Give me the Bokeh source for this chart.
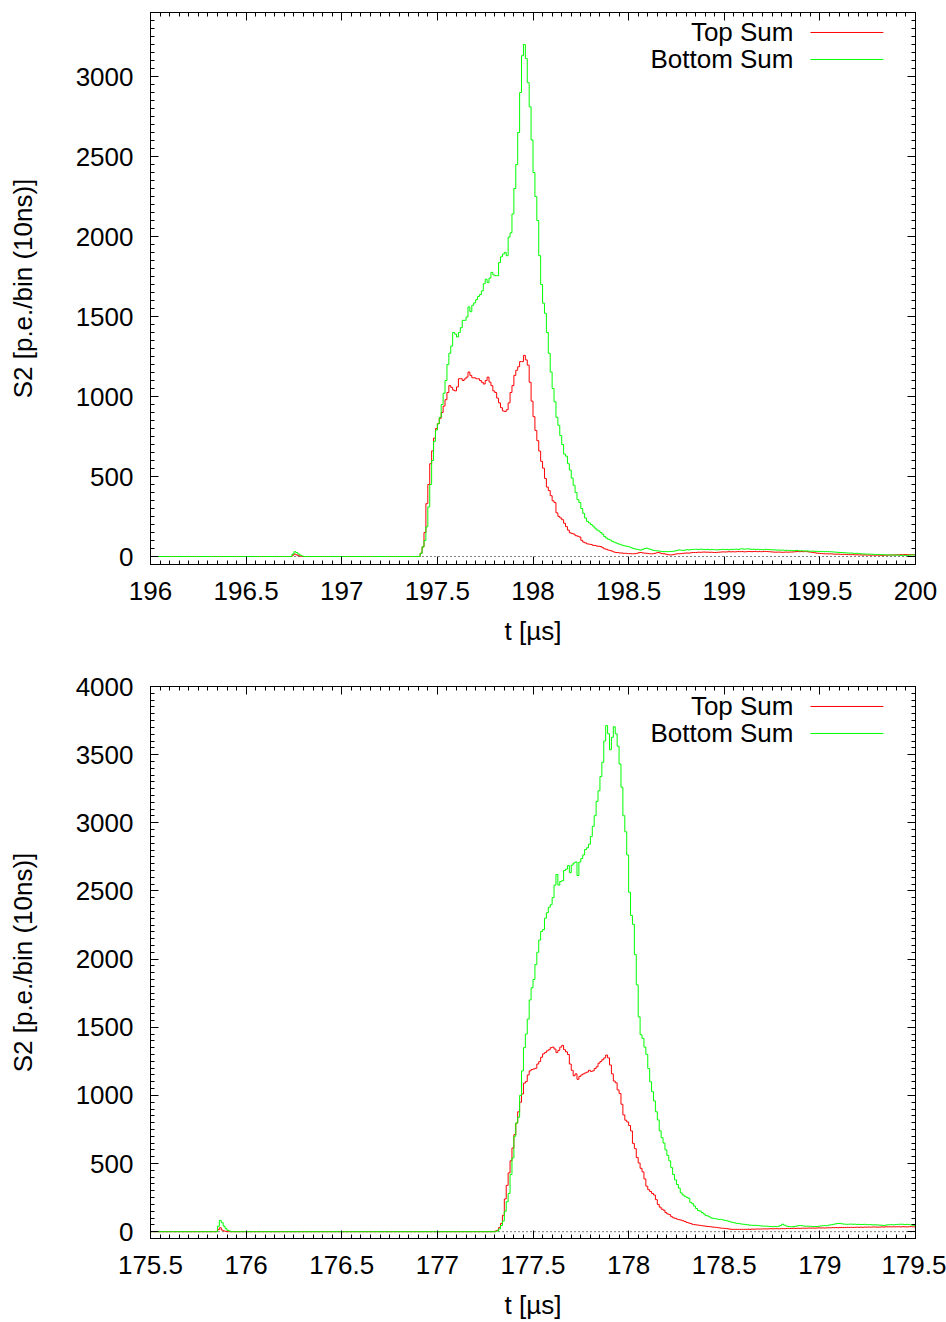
import numpy as np
from bokeh.plotting import figure
from bokeh.models import (Range1d, FixedTicker, LinearAxis, Span, Label,
                          NumeralTickFormatter, CustomLabelingPolicy)
from bokeh.layouts import column
from bokeh.embed import file_html
from bokeh.resources import INLINE

BIN_US = 0.01  # 10 ns bins

# ---------------------------------------------------------------- event 1
EV1_T0 = 196.0
EV1_TOP_SUM = (
    [0] * 74
    + [8, 15, 10, 5, 2, 0]
    + [0] * 61
    # 197.41 us onwards
    + [20, 60, 150, 330, 450, 580, 660, 740, 800, 830,
       864, 900, 940, 980, 1025, 1068, 1057, 1040, 1035, 1060,
       1111, 1111, 1100, 1110, 1121, 1153, 1132, 1117, 1117, 1111,
       1111, 1100, 1089, 1078, 1100, 1121, 1090, 1068, 1035, 1025,
       990, 960, 930, 910, 906, 917, 960, 1025, 1068, 1132,
       1164, 1186, 1218, 1218, 1257, 1229, 1196, 1089, 971, 874,
       788, 724, 659, 595, 552, 488, 434, 412, 380, 348,
       337, 273, 251, 241, 230, 208, 187, 165, 148, 144,
       140, 130, 127, 122, 101, 90, 85, 79, 77, 75,
       70, 69, 65, 64]
    # 198.35 us onwards
    + [62, 55, 48, 45, 40, 37, 33, 28, 25, 24,
       22, 22, 20, 20, 18, 18, 17, 17, 18, 20,
       24, 25, 22, 21, 20, 18, 17, 17, 19, 22,
       25, 22, 18, 17, 15, 12, 10, 10, 12, 15,
       17, 17, 18, 20, 21, 22, 21, 23, 25, 25,
       25, 27, 26, 27, 28, 27, 27, 26, 27, 25,
       25, 26, 27, 28, 29, 28, 29, 30, 29, 30,
       29, 30, 31, 30, 31, 29, 30, 31, 31, 30,
       31, 32, 30, 31, 30, 31, 32, 31, 30, 29,
       28, 27, 27, 28, 27, 26, 27, 28, 27, 28,
       28, 29, 30, 31, 30, 31, 30, 31, 30, 28,
       27, 25, 23, 21, 20, 19, 18, 17, 17, 16,
       17, 16, 15, 14, 15, 14, 13, 14, 13, 12,
       12, 11, 12, 10, 11, 10, 10, 9, 10, 9,
       9, 8, 9, 8, 8, 9, 8, 7, 8, 8,
       8, 9, 10, 9, 10, 11, 10, 12, 11, 12,
       12, 11, 12, 12, 11]
)
EV1_BOTTOM_SUM = (
    [0] * 74
    + [15, 30, 25, 15, 8, 3]
    + [0] * 61
    + [20, 60, 100, 185, 310, 450, 600, 720, 790, 830,
       870, 950, 1020, 1100, 1200, 1270, 1315, 1400, 1390, 1372,
       1400, 1430, 1476, 1476, 1497, 1560, 1530, 1570, 1585, 1605,
       1625, 1637, 1660, 1705, 1733, 1712, 1740, 1776, 1760, 1755,
       1755, 1837, 1873, 1890, 1901, 1880, 1996, 2023, 2141, 2300,
       2450, 2650, 2900, 3130, 3200, 3112, 2962, 2810, 2604, 2400,
       2250, 2100, 1880, 1700, 1583, 1520, 1400, 1270, 1153, 1050,
       967, 870, 820, 756, 700, 640, 627, 580, 540, 490,
       445, 400, 355, 337, 300, 270, 240, 220, 210, 200,
       190, 178, 166, 160]
    + [150, 140, 125, 115, 108, 103, 95, 90, 85, 80,
       76, 72, 68, 65, 63, 60, 55, 50, 47, 45,
       42, 40, 45, 50, 52, 48, 45, 40, 38, 36,
       35, 33, 31, 30, 31, 30, 32, 31, 33, 35,
       38, 41, 40, 38, 40, 42, 41, 43, 44, 45,
       45, 44, 46, 45, 43, 44, 45, 42, 44, 43,
       42, 41, 43, 44, 45, 43, 44, 42, 45, 44,
       45, 46, 44, 47, 48, 46, 47, 48, 46, 45,
       46, 44, 45, 43, 44, 42, 45, 44, 43, 42,
       42, 41, 40, 41, 39, 40, 38, 39, 38, 37,
       37, 36, 38, 37, 35, 36, 35, 34, 35, 33,
       33, 34, 32, 33, 31, 32, 31, 30, 31, 30,
       30, 29, 28, 27, 26, 25, 25, 24, 23, 22,
       21, 22, 20, 19, 20, 18, 17, 16, 16, 15,
       15, 14, 14, 13, 12, 13, 12, 11, 11, 10,
       10, 9, 10, 9, 8, 9, 8, 7, 8, 7,
       7, 8, 9, 10, 10]
)

# ---------------------------------------------------------------- event 2
EV2_T0 = 175.5
EV2_TOP_SUM = (
    [0] * 35
    + [15, 29, 12, 5, 3, 0, 0]
    + [0] * 138
    # 177.30 us onwards
    + [5, 10, 30, 60, 120, 240, 340, 431, 520, 614,
       712, 797, 880, 950, 1010, 1090, 1101, 1150, 1180, 1190,
       1194, 1199, 1230, 1248, 1280, 1305, 1314, 1327, 1335, 1350,
       1354, 1340, 1314, 1330, 1354, 1367, 1335, 1320, 1300, 1230,
       1184, 1144, 1158, 1118, 1139, 1150, 1158, 1165, 1171, 1184,
       1176, 1180, 1197, 1210, 1236, 1249, 1262, 1275, 1296, 1275,
       1223, 1158, 1105, 1092, 1040, 1014, 935, 857, 818, 805,
       779, 739, 648, 609, 544, 504, 465, 439, 387, 334,
       308, 295, 280, 269, 235, 200, 180, 165, 158, 140,
       130, 125, 110, 102, 98, 92, 88, 85, 80, 75,
       68, 64, 60, 54, 52, 50, 48, 46, 44, 42,
       40, 38, 37, 35, 33, 32, 30, 28, 26, 25,
       24, 22, 20, 18, 17, 17, 17, 17, 17, 17,
       17]
    # 178.61 us onwards
    + [17, 18, 17, 19, 18, 19, 20, 19, 20, 20,
       21, 20, 21, 22, 21, 22, 22, 21, 22, 23,
       22, 23, 24, 23, 24, 25, 24, 25, 24, 25,
       26, 25, 26, 27, 26, 27, 26, 27, 28, 27,
       28, 27, 28, 29, 28, 30, 29, 30, 29, 30,
       31, 30, 31, 32, 31, 32, 31, 32, 33, 32,
       33, 32, 34, 33, 34, 33, 34, 35, 34, 33,
       34, 35, 34, 36, 35, 36, 35, 36, 35, 36,
       36, 35, 37, 36, 35, 36, 37, 36, 35]
)
EV2_BOTTOM_SUM = (
    [0] * 35
    + [40, 83, 66, 41, 22, 10, 5]
    + [0] * 138
    + [0, 5, 20, 45, 78, 150, 220, 280, 420, 541,
       700, 797, 840, 1000, 1180, 1350, 1450, 1560, 1700, 1790,
       1850, 1960, 2050, 2140, 2203, 2216, 2300, 2340, 2380, 2399,
       2451, 2543, 2621, 2543, 2569, 2575, 2650, 2660, 2686, 2634,
       2690, 2705, 2712, 2613, 2712, 2738, 2764, 2804, 2817, 2843,
       2900, 2974, 3052, 3157, 3235, 3339, 3444, 3600, 3713, 3653,
       3536, 3627, 3705, 3653, 3562, 3431, 3261, 3052, 2934, 2764,
       2490, 2320, 2255, 2033, 1811, 1576, 1445, 1419, 1354, 1301,
       1197, 1100, 1027, 960, 880, 820, 740, 690, 650, 600,
       560, 520, 470, 420, 380, 346, 320, 285, 270, 260,
       252, 245, 215, 205, 188, 170, 155, 151, 140, 130,
       118, 115, 108, 100, 97, 95, 92, 90, 90, 86,
       83, 80, 76, 71, 68, 65, 61, 60, 58, 55,
       54]
    + [52, 50, 48, 47, 46, 47, 45, 44, 42, 41,
       41, 40, 39, 38, 37, 38, 37, 40, 45, 55,
       48, 42, 38, 37, 36, 38, 40, 43, 45, 44,
       42, 40, 41, 40, 39, 38, 37, 38, 40, 42,
       44, 45, 44, 47, 50, 52, 55, 58, 60, 61,
       58, 56, 55, 54, 55, 56, 54, 55, 53, 54,
       52, 53, 54, 52, 51, 52, 50, 51, 50, 49,
       48, 47, 46, 48, 50, 51, 52, 50, 52, 53,
       54, 55, 54, 52, 54, 53, 50, 48, 45]
)

for series in (EV1_TOP_SUM, EV1_BOTTOM_SUM, EV2_TOP_SUM, EV2_BOTTOM_SUM):
    assert len(series) == 400, len(series)

# axis settings
EV1_XTICKS = [196, 196.5, 197, 197.5, 198, 198.5, 199, 199.5, 200]
EV2_XTICKS = [175.5, 176, 176.5, 177, 177.5, 178, 178.5, 179, 179.5]
EV1_YTICKS = [0, 500, 1000, 1500, 2000, 2500, 3000]
EV2_YTICKS = [0, 500, 1000, 1500, 2000, 2500, 3000, 3500, 4000]
EV1_YRANGE = (-50, 3400)
EV2_YRANGE = (-50, 4000)

LEGEND_LABELS = ["Top Sum", "Bottom Sum"]
LINE_COLORS = ["#ff0000", "#00ff00"]

FONT = "Liberation Sans"
FSIZE = "26px"
W = 946

# mirrored axes carry ticks only: drop every label
NO_LABELS = CustomLabelingPolicy(
    code="const all = [...indices]; for (const i of all) indices.unset(i); return indices")


def style_axis(ax, show_labels):
    ax.axis_line_color = "black"
    ax.axis_line_width = 1
    ax.major_tick_in = 8
    ax.major_tick_out = 0
    ax.minor_tick_in = 4
    ax.minor_tick_out = 0
    ax.major_tick_line_color = "black"
    ax.minor_tick_line_color = "black"
    if show_labels:
        ax.major_label_text_font = FONT
        ax.major_label_text_font_size = FSIZE
        ax.major_label_text_color = "black"
        ax.axis_label_text_font = FONT
        ax.axis_label_text_font_size = FSIZE
        ax.axis_label_text_font_style = "normal"
        ax.axis_label_text_color = "black"
    else:
        ax.major_label_policy = NO_LABELS
        ax.major_label_standoff = 0


def make_panel(t0, top_sum, bottom_sum, xticks, yticks, yrange, height,
               border_top, border_bottom):
    x0, x1 = xticks[0], xticks[-1]
    p = figure(width=W, height=height, output_backend="svg", toolbar_location=None,
               x_range=Range1d(x0, x1), y_range=Range1d(*yrange),
               min_border_left=150, min_border_right=31,
               min_border_top=border_top, min_border_bottom=border_bottom,
               x_axis_location=None, y_axis_location=None)
    p.grid.visible = False
    p.outline_line_color = "black"
    p.outline_line_alpha = 1.0
    p.background_fill_color = "white"
    p.border_fill_color = "white"

    xminor = list(np.round(np.arange(x0, x1 + 1e-9, 0.05), 3))
    yminor = list(np.arange(yrange[0], yrange[1] + 1, 50))
    xt = FixedTicker(ticks=xticks, minor_ticks=xminor)
    yt = FixedTicker(ticks=yticks, minor_ticks=yminor)

    xb = LinearAxis(ticker=xt, axis_label="t [µs]",
                    formatter=NumeralTickFormatter(format="0[.][0]"))
    style_axis(xb, True)
    xb.major_label_standoff = 17
    xb.axis_label_standoff = 13
    p.add_layout(xb, "below")

    yl = LinearAxis(ticker=yt, axis_label="S2 [p.e./bin (10ns)]",
                    formatter=NumeralTickFormatter(format="0"))
    style_axis(yl, True)
    yl.major_label_standoff = 17
    yl.axis_label_standoff = 35
    p.add_layout(yl, "left")

    xa = LinearAxis(ticker=xt)
    style_axis(xa, False)
    p.add_layout(xa, "above")
    yr = LinearAxis(ticker=yt)
    style_axis(yr, False)
    p.add_layout(yr, "right")

    p.add_layout(Span(location=0, dimension="width", line_color="black",
                      line_dash="1 3", line_width=1, level="underlay"))

    n = len(top_sum)
    edges = t0 + BIN_US * np.arange(n + 1)
    for vals, color in ((top_sum, LINE_COLORS[0]), (bottom_sum, LINE_COLORS[1])):
        y = list(vals) + [vals[-1]]
        p.step(x=edges, y=y, mode="after", line_color=color, line_width=1)

    # key: text right-aligned, sample line to its right
    span_x = x1 - x0
    span_y = yrange[1] - yrange[0]
    rows = [0.9638, 0.9149]
    for label, color, fy in zip(LEGEND_LABELS, LINE_COLORS, rows):
        yy = yrange[0] + fy * span_y
        p.add_layout(Label(x=x0 + 0.8405 * span_x, y=yy, text=label,
                           text_align="right", text_baseline="middle",
                           text_font=FONT, text_font_size=FSIZE, text_color="black"))
        p.segment(x0=[x0 + 0.8627 * span_x], y0=[yy], x1=[x0 + 0.958 * span_x], y1=[yy],
                  line_color=color, line_width=1)
    return p


p1 = make_panel(EV1_T0, EV1_TOP_SUM, EV1_BOTTOM_SUM, EV1_XTICKS, EV1_YTICKS,
                EV1_YRANGE, 661, 12, 97)
p2 = make_panel(EV2_T0, EV2_TOP_SUM, EV2_BOTTOM_SUM, EV2_XTICKS, EV2_YTICKS,
                EV2_YRANGE, 661, 25, 82)

layout = column(p1, p2, spacing=0)
open("out.html", "w").write(file_html(layout, INLINE))
